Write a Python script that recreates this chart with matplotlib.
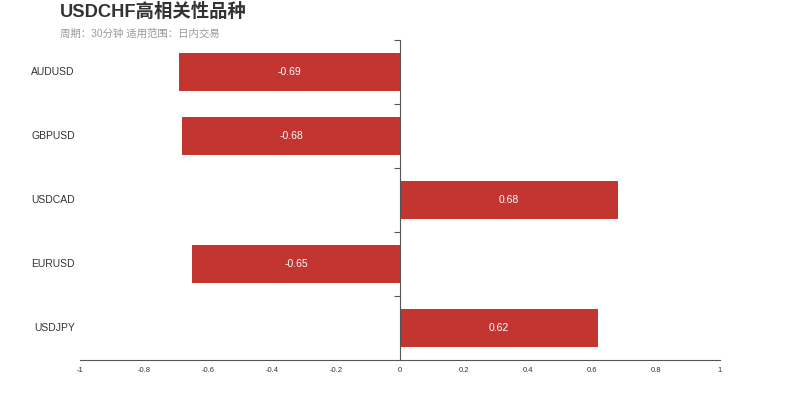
import matplotlib
matplotlib.use("Agg")
import matplotlib.pyplot as plt

plt.rcParams['font.family'] = ['Liberation Sans', 'Noto Sans CJK SC', 'DejaVu Sans']

# data
symbols = ['AUDUSD', 'GBPUSD', 'USDCAD', 'EURUSD', 'USDJPY']
corr = [-0.69, -0.68, 0.68, -0.65, 0.62]
xticks = [-1, -0.8, -0.6, -0.4, -0.2, 0, 0.2, 0.4, 0.6, 0.8, 1]
xtick_labels = ['-1', '-0.8', '-0.6', '-0.4', '-0.2', '0', '0.2', '0.4', '0.6', '0.8', '1']

fig = plt.figure(figsize=(8, 4), dpi=100)
ax = fig.add_axes([0.1, 0.1, 0.8, 0.8])

pos = list(range(len(symbols)))
ax.barh(pos, corr, height=0.6, color='#c23531')
for p, v in zip(pos, corr):
    ax.text(v / 2, p, '%.2f' % v, color='white', fontsize=7.5, ha='center', va='center')

ax.set_xlim(-1, 1)
ax.set_ylim(len(symbols) - 0.5, -0.5)

# axes styling
for s in ['top', 'right']:
    ax.spines[s].set_visible(False)
ax.spines['left'].set_position(('data', 0))
ax.spines['left'].set_color('#555555')
ax.spines['bottom'].set_color('#555555')

ax.set_yticks([p - 0.5 for p in pos])
ax.set_yticklabels([])
ax.tick_params(axis='y', length=4, color='#555555', direction='out')
ax.set_xticks(xticks)
ax.set_xticklabels(xtick_labels)
ax.tick_params(axis='x', length=0, labelsize=5.5, labelcolor='#333333', pad=5)

# category labels sit at the left edge of the plot
for p, name in zip(pos, symbols):
    ax.text(-0.008, p, name, transform=ax.get_yaxis_transform(), ha='right', va='center',
            fontsize=7.5, color='#333333')

fig.text(0.075, 0.97, 'USDCHF高相关性品种', fontsize=13.2, fontweight='bold', color='#333333',
         ha='left', va='center')
fig.text(0.075, 0.917, '周期：30分钟 适用范围：日内交易', fontsize=7.5, color='#999999',
         ha='left', va='center')

fig.savefig('out.png', dpi=100)
